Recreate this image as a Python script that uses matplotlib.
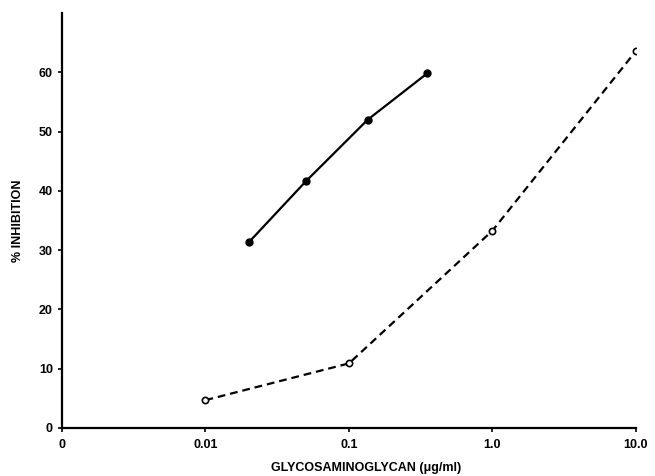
import matplotlib
matplotlib.use("Agg")
import matplotlib.pyplot as plt

# solid series (filled circles)
conc_a = [0.02, 0.05, 0.135, 0.35]
inhib_a = [31.3, 41.6, 52.0, 59.8]

# dashed series (open circles)
conc_b = [0.01, 0.1, 1.0, 10.0]
inhib_b = [4.7, 10.9, 33.3, 63.6]

x_ticks = [0.001, 0.01, 0.1, 1.0, 10.0]
x_labels = ["0", "0.01", "0.1", "1.0", "10.0"]
y_ticks = [0, 10, 20, 30, 40, 50, 60]

plt.rcParams["font.family"] = ["Liberation Sans", "DejaVu Sans"]
plt.rcParams["font.weight"] = "bold"

fig = plt.figure(figsize=(6.55, 4.76), dpi=100)
ax = fig.add_axes([62 / 655, 1 - 428 / 476, (636 - 62) / 655, (428 - 13) / 476])

ax.plot(conc_a, inhib_a, color="black", lw=1.6, marker="o", ms=5,
        mfc="black", mec="black")
ax.plot(conc_b, inhib_b, color="black", lw=1.6, ls=(0, (3.5, 2.2)), marker="o",
        ms=4.5, mfc="white", mec="black", mew=1.2)

ax.set_xscale("log")
ax.set_xlim(0.001, 10.0)
ax.set_ylim(0, 70)
ax.set_xticks(x_ticks)
ax.set_xticklabels(x_labels)
ax.minorticks_off()
ax.set_yticks(y_ticks)

for side in ("top", "right"):
    ax.spines[side].set_visible(False)
for side in ("left", "bottom"):
    ax.spines[side].set_linewidth(1.6)

ax.tick_params(axis="both", direction="out", length=3, width=1.2, labelsize=9)
ax.tick_params(axis="x", pad=5)

ax.set_xlabel("GLYCOSAMINOGLYCAN (\u03bcg/ml)", fontsize=9, fontweight="bold")
ax.set_ylabel("% INHIBITION", fontsize=9, fontweight="bold")
ax.xaxis.set_label_coords(0.53, -0.082)
ax.yaxis.set_label_coords(-0.066, 0.5)

fig.savefig("out.png", dpi=100)
